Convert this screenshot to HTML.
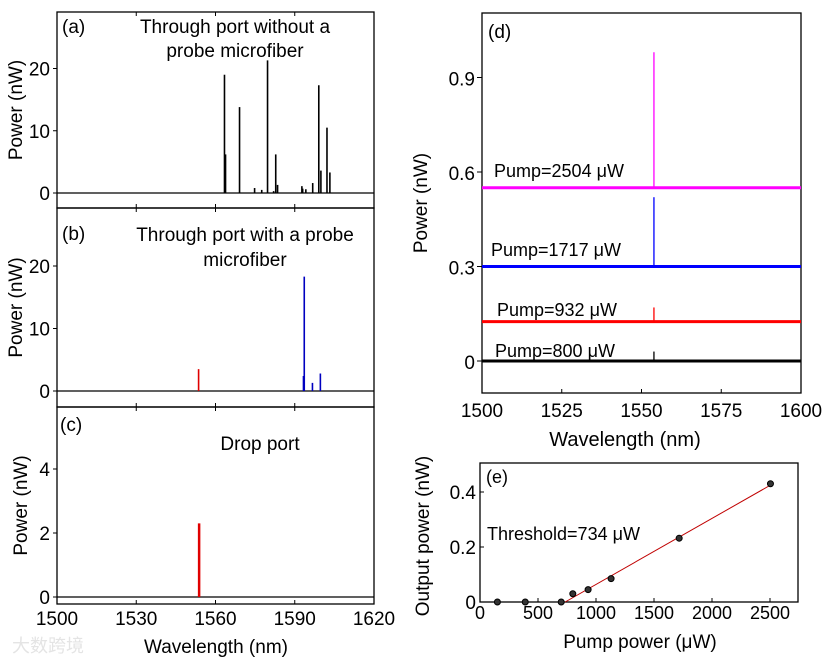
<!DOCTYPE html>
<html><head><meta charset="utf-8"><style>
body{margin:0;background:#fff;width:829px;height:660px;overflow:hidden}
svg text{font-family:"Liberation Sans",sans-serif;fill:#000}
</style></head><body>
<svg id="s" width="829" height="660" xmlns="http://www.w3.org/2000/svg"></svg>
<script>
// ---- data ----
const aWl=[1563.4,1563.8,1569.1,1574.8,1577.5,1579.7,1582.0,1582.8,1583.5,1592.7,1593.0,1594.2,1596.8,1599.1,1599.9,1602.2,1603.3];
const aPw=[19,6.2,13.8,0.8,0.5,21.3,0.3,6.2,1.3,1.1,0.7,0.6,1.6,17.3,3.6,10.5,3.3];
const bWl=[1553.6,1593.3,1593.6,1596.7,1599.7];
const bPw=[3.5,2.4,18.3,1.3,2.8];
const bCol=['#e00000','#0000c0','#0000c0','#0000c0','#0000c0'];
const cWl=[1553.8];
const cPw=[2.3];
const xTicksABC=[1500,1530,1560,1590,1620];
const yTicksAB=[0,10,20];
const yTicksC=[0,2,4];
const dLabels=['Pump=2504 μW','Pump=1717 μW','Pump=932 μW','Pump=800 μW'];
const dBase=[0.55,0.30,0.125,0.0];
const dPeak=[0.98,0.52,0.17,0.03];
const dPeakWl=1553.9;
const dColors=['#ff00ff','#0000ff','#ff0000','#000000'];
const dXTicks=[1500,1525,1550,1575,1600];
const dYTicks=[0,0.3,0.6,0.9];
const ePump=[150,390,700,800,932,1130,1717,2504];
const eOut=[0,0,0,0.03,0.045,0.085,0.232,0.43];
const eFit=[[734,0],[2504,0.425]];
const eXTicks=[0,500,1000,1500,2000,2500];
const eYTicks=[0,0.2,0.4];

const S=document.getElementById('s');const NS='http://www.w3.org/2000/svg';
function el(t,a,p){const e=document.createElementNS(NS,t);for(const k in a)e.setAttribute(k,a[k]);(p||S).appendChild(e);return e;}
function txt(x,y,s,size,anchor,name,rot){const t=el('text',{x:x,y:y,'font-size':size,'text-anchor':anchor||'start'});
if(rot)t.setAttribute('transform','rotate(-90 '+x+' '+y+')');t.textContent=s;

return t;}
function lin(d0,d1,r0,r1){return v=>r0+(v-d0)*(r1-r0)/(d1-d0);}
function frame(x0,y0,x1,y1,name){const r=el('rect',{x:x0,y:y0,width:x1-x0,height:y1-y0,fill:'none',stroke:'#000','stroke-width':1.3});

}

// ---- panels a,b,c ----
const X=lin(1500,1620,57,374);
const panels=[
 {top:12,bot:208,Y:lin(0,20,193,68.5),yt:yTicksAB,wl:aWl,pw:aPw,col:null,lab:'(a)',name:'a'},
 {top:208,bot:407,Y:lin(0,20,391,266),yt:yTicksAB,wl:bWl,pw:bPw,col:bCol,lab:'(b)',name:'b'},
 {top:407,bot:604,Y:lin(0,2,597,533),yt:yTicksC,wl:cWl,pw:cPw,col:['#e00000'],lab:'(c)',name:'c'}];
panels.forEach(p=>{
 frame(57,p.top,374,p.bot,'panel-'+p.name+'-frame');
 const z=p.Y(0);
 const bl=el('line',{x1:57,x2:374,y1:z,y2:z,stroke:'#000','stroke-width':1.3});
 
 
 p.wl.forEach((w,i)=>{const l=el('line',{x1:X(w),x2:X(w),y1:z,y2:p.Y(p.pw[i]),stroke:p.col?p.col[i]:'#000','stroke-width':p.name=='c'?2.5:1.6});
  
  });
 p.yt.forEach(v=>{const y=p.Y(v);el('line',{x1:57,x2:53,y1:y,y2:y,stroke:'#000'});txt(50,y+7,String(v),19,'end','panel-'+p.name+'-ytick');});
 xTicksABC.forEach(v=>{el('line',{x1:X(v),x2:X(v),y1:p.bot,y2:p.bot-4,stroke:'#000'});el('line',{x1:X(v),x2:X(v),y1:p.top,y2:p.top+4,stroke:'#000'});});
 txt(p.name=='c'?60:62,p.name=='a'?33:p.name=='b'?240:431,p.lab,19,'start','panel-'+p.name+'-label');
 txt(p.name=='c'?27:22,(p.top+p.bot)/2,'Power (nW)',19,'middle','panel-'+p.name+'-ylabel',true);
});
txt(235,33,'Through port without a',19,'middle','panel-a-title');
txt(235,57,'probe microfiber',19,'middle','panel-a-title-2');
txt(245,241,'Through port with a probe',19,'middle','panel-b-title');
txt(245,266,'microfiber',19,'middle','panel-b-title-2');
txt(260,450,'Drop port',19,'middle','panel-c-title');
xTicksABC.forEach(v=>txt(X(v),625,String(v),19,'middle','panel-c-xtick'));
txt(216,653,'Wavelength (nm)',19,'middle','panel-c-xlabel');
txt(12,652,'大数跨境',18,'start','watermark').setAttribute('style','fill:#e4e4e4');

// ---- panel d ----
const DX=lin(1500,1600,482,801),DY=lin(0,0.3,361,266.5);
frame(482,13,801,393,'panel-d-frame');
dBase.forEach((b,i)=>{const y=DY(b);
 const l=el('line',{x1:482,x2:801,y1:y,y2:y,stroke:dColors[i],'stroke-width':3});
 
 
 const pk=el('line',{x1:DX(dPeakWl),x2:DX(dPeakWl),y1:y,y2:DY(dPeak[i]),stroke:dColors[i],'stroke-width':1.3});
 
 
});
const dLabPos=[[494,177],[491,256],[497,316],[495,357]];
dLabels.forEach((s,i)=>txt(dLabPos[i][0],dLabPos[i][1],s,18,'start','panel-d-legend-label'));
dYTicks.forEach(v=>{const y=DY(v);el('line',{x1:482,x2:477,y1:y,y2:y,stroke:'#000'});txt(475,y+8,String(v),19,'end','panel-d-ytick');});
dXTicks.forEach(v=>{el('line',{x1:DX(v),x2:DX(v),y1:393,y2:389,stroke:'#000'});txt(DX(v),417,String(v),19,'middle','panel-d-xtick');});
txt(488,38,'(d)',19,'start','panel-d-label');
txt(625,446,'Wavelength (nm)',20,'middle','panel-d-xlabel');
txt(427,203,'Power (nW)',19,'middle','panel-d-ylabel',true);

// ---- panel e ----
const EX=lin(0,2500,480,770),EY=lin(0,0.2,602,547);
frame(480,463,798,602,'panel-e-frame');
const f=el('line',{x1:EX(eFit[0][0]),y1:EY(eFit[0][1]),x2:EX(eFit[1][0]),y2:EY(eFit[1][1]),stroke:'#c00000','stroke-width':1});


ePump.forEach((v,i)=>{const c=el('circle',{cx:EX(v),cy:EY(eOut[i]),r:3,fill:'#333',stroke:'#000'});
 
 });
eYTicks.forEach(v=>{const y=EY(v);el('line',{x1:480,x2:484,y1:y,y2:y,stroke:'#000'});txt(476,y+7,String(v),19,'end','panel-e-ytick');});
eXTicks.forEach(v=>{el('line',{x1:EX(v),x2:EX(v),y1:602,y2:598,stroke:'#000'});txt(EX(v),619,String(v),18,'middle','panel-e-xtick');});
txt(486,483,'(e)',18,'start','panel-e-label');
txt(487,540,'Threshold=734 μW',18,'start','panel-e-threshold-label');
txt(640,648,'Pump power (μW)',19,'middle','panel-e-xlabel');
txt(429,536,'Output power (nW)',19,'middle','panel-e-ylabel',true);
</script>
</body></html>
